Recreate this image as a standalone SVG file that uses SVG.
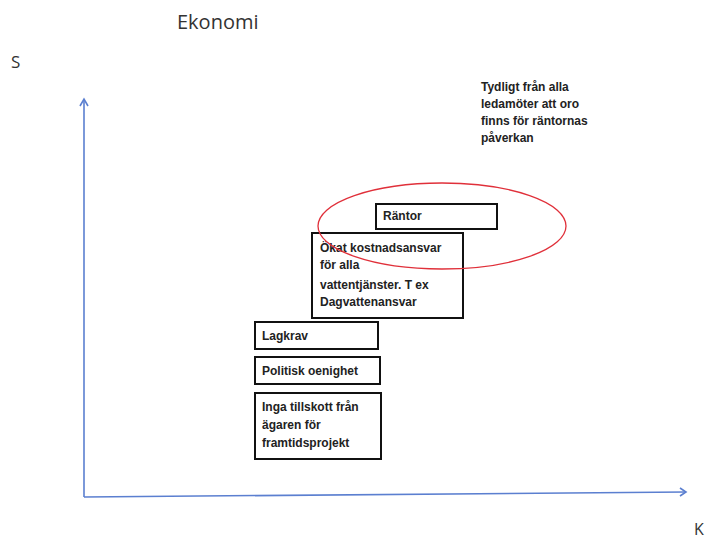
<svg xmlns="http://www.w3.org/2000/svg" width="709" height="539" viewBox="0 0 709 539">
<style>
.box{fill:#fff;stroke:#111;stroke-width:2}
.t{font-family:"Liberation Sans",Arial,sans-serif;font-size:12px;font-weight:bold;fill:#222}
.lbl{font-family:"Open Sans","Liberation Sans",sans-serif;fill:#333}
.ax{stroke:#5b7fd0;stroke-width:1.6;fill:none}
</style>
<rect width="709" height="539" fill="#fff"/>
<text class="lbl" x="177" y="29" font-size="20">Ekonomi</text>
<text class="lbl" x="11" y="68" font-size="17">S</text>
<text class="lbl" x="694" y="535" font-size="16">K</text>
<g id="connectors">
<path class="ax" d="M84,497 L84,99"/>
<path class="ax" d="M80,106 L84,99 L88,106"/>
<path class="ax" d="M84,497 L686,492"/>
<path class="ax" d="M680,488 L686,492 L680,496"/>
</g>
<g id="note">
<text class="t" x="481" y="91">Tydligt från alla</text>
<text class="t" x="481" y="108">ledamöter att oro</text>
<text class="t" x="481" y="125">finns för räntornas</text>
<text class="t" x="481" y="142">påverkan</text>
</g>
<g id="okat">
<rect class="box" x="312" y="233" width="151" height="85"/>
<text class="t" x="320" y="252">Ökat kostnadsansvar</text>
<text class="t" x="320" y="269">för alla</text>
<text class="t" x="320" y="289">vattentjänster. T ex</text>
<text class="t" x="320" y="306">Dagvattenansvar</text>
</g>
<g id="rantor">
<rect class="box" x="376" y="204" width="121" height="25"/>
<text class="t" x="383" y="220">Räntor</text>
</g>
<g id="ellipse">
<ellipse cx="442" cy="226" rx="124" ry="43" fill="none" stroke="#e0303a" stroke-width="1.3"/>
</g>
<g id="lagkrav">
<rect class="box" x="255" y="322" width="123" height="27"/>
<text class="t" x="262" y="340">Lagkrav</text>
</g>
<g id="politisk">
<rect class="box" x="255" y="357" width="125" height="27"/>
<text class="t" x="262" y="375">Politisk oenighet</text>
</g>
<g id="inga">
<rect class="box" x="255" y="393" width="126" height="66"/>
<text class="t" x="262" y="411">Inga tillskott från</text>
<text class="t" x="262" y="429">ägaren för</text>
<text class="t" x="262" y="447">framtidsprojekt</text>
</g>
</svg>
